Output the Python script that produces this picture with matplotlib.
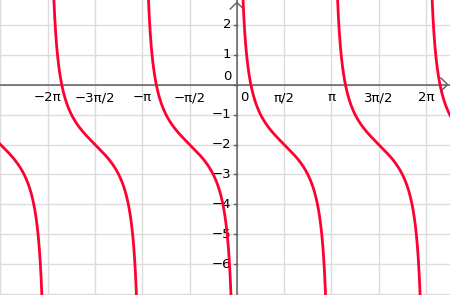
import numpy as np
import matplotlib
matplotlib.use('Agg')
import matplotlib.pyplot as plt

# graph of y = cot(x) + shift
shift = -2.0
branch_starts = [-3, -2, -1, 0, 1, 2]      # asymptotes at k*pi
x_tick_steps = [-4, -3, -2, -1, 1, 2, 3, 4]  # multiples of pi/2
x_tick_labels = ['−2π', '−3π/2', '−π', '−π/2', 'π/2', 'π', '3π/2', '2π']
y_ticks = [-6, -5, -4, -3, -2, -1, 1, 2]

xmin, xmax = -7.87, 7.08
ymin, ymax = -7.02, 2.82

fig = plt.figure(figsize=(4.5, 2.95), dpi=100)
ax = fig.add_axes([0, 0, 1, 1])
ax.set_xlim(xmin, xmax)
ax.set_ylim(ymin, ymax)
for s in ax.spines.values():
    s.set_visible(False)
ax.set_xticks([])
ax.set_yticks([])

grid_c = '#dcdcdc'
for k in range(-5, 5):
    ax.axvline(k * np.pi / 2, color=grid_c, lw=1, zorder=0)
for v in range(-7, 3):
    ax.axhline(v, color=grid_c, lw=1, zorder=0)

axis_c = '#606060'
ax.plot([xmin, xmax], [0, 0], color=axis_c, lw=1.1, zorder=1)
ax.plot([0, 0], [ymin, ymax], color=axis_c, lw=1.1, zorder=1)
# arrow heads
ax.plot([xmax - 0.3, xmax - 0.08, xmax - 0.3], [0.22, 0, -0.22], color=axis_c, lw=1.0, zorder=1)
ax.plot([-0.22, 0, 0.22], [ymax - 0.3, ymax - 0.08, ymax - 0.3], color=axis_c, lw=1.0, zorder=1)
# small ticks on y axis
for v in y_ticks + [0]:
    ax.plot([-0.08, 0], [v, v], color=axis_c, lw=1.0, zorder=1)

fs = 9.5
for k, lab in zip(x_tick_steps, x_tick_labels):
    ax.text(k * np.pi / 2, -0.22, lab, ha='center', va='top', fontsize=fs, color='black')
ax.text(0.12, -0.22, '0', ha='left', va='top', fontsize=fs)
for v in y_ticks:
    ax.text(-0.18, v, str(v).replace('-', '−'), ha='right', va='center', fontsize=fs)
ax.text(-0.18, 0.06, '0', ha='right', va='bottom', fontsize=fs)

curve_c = '#ff0033'
for k in branch_starts:
    x = np.linspace(k * np.pi + 0.04, (k + 1) * np.pi - 0.04, 800)
    y = 1 / np.tan(x) + shift
    ax.plot(x, y, color=curve_c, lw=2.0, zorder=3, solid_capstyle='round')

ax.set_xlim(xmin, xmax)
ax.set_ylim(ymin, ymax)
fig.savefig('out.png', dpi=100)
